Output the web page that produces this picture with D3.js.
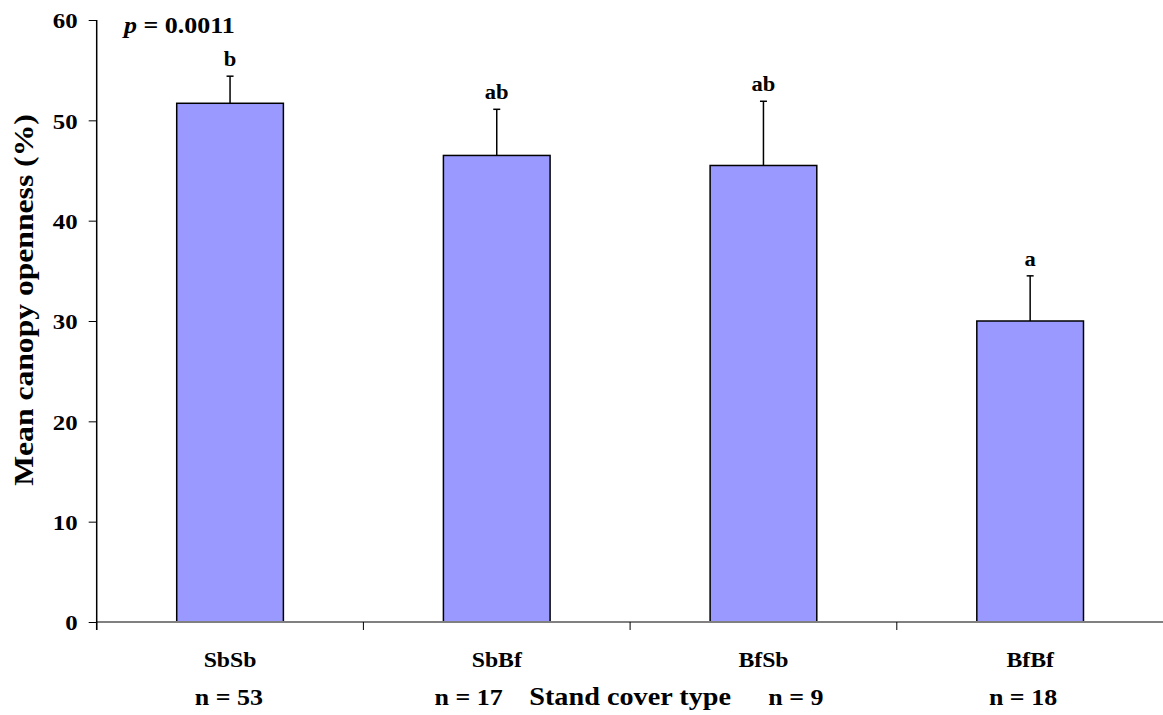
<!DOCTYPE html>
<html>
<head>
<meta charset="utf-8">
<script src="https://cdn.jsdelivr.net/npm/d3@7"></script>
<style>
  html, body { margin: 0; padding: 0; background: #fff; }
  svg { display: block; }
  text { font-family: "Liberation Serif", "Times New Roman", serif; font-weight: bold; fill: #000; }
</style>
</head>
<body>
<svg id="chart" width="1163" height="715"></svg>
<script>
// ---- data ----
const categories = ["SbSb", "SbBf", "BfSb", "BfBf"];
const meanValues = [51.7, 46.5, 45.5, 30.0];
const errorTops = [54.4, 51.1, 51.9, 34.5];
const groupLetters = ["b", "ab", "ab", "a"];
const sampleLabels = ["n = 53", "n = 17", "n = 9", "n = 18"];
const yTicks = [0, 10, 20, 30, 40, 50, 60];
const pLabel = "0.0011";
const xTitle = "Stand cover type";
const yTitle = "Mean canopy openness (%)";

// ---- layout ----
const svg = d3.select("#chart");
const plotLeft = 96.7, plotRight = 1163.5, plotTop = 20, plotBottom = 622;
const SX = 1.13; // horizontal glyph stretch
const x = d3.scaleBand().domain(categories).range([plotLeft, plotRight]).paddingInner(0.6).paddingOuter(0.3);
const y = d3.scaleLinear().domain([0, 60]).range([plotBottom, plotTop]);

function txt(g, str, px, py, size, anchor, rot) {
  return g.append("text")
    .attr("transform", `translate(${px},${py})` + (rot ? ` rotate(${rot})` : "") + ` scale(${SX},1)`)
    .attr("font-size", size)
    .attr("text-anchor", anchor || "middle")
    .text(str);
}

// bars
svg.append("g").selectAll("rect").data(categories).join("rect")
  .attr("x", d => x(d))
  .attr("y", (d, i) => y(meanValues[i]))
  .attr("width", x.bandwidth())
  .attr("height", (d, i) => y(0) - y(meanValues[i]))
  .attr("fill", "#9999FF")
  .attr("stroke", "#000")
  .attr("stroke-width", 1.5);

// error bars (upper only)
const eg = svg.append("g").attr("stroke", "#000").attr("stroke-width", 1.5);
categories.forEach((c, i) => {
  const cx = x(c) + x.bandwidth() / 2;
  eg.append("line").attr("x1", cx).attr("x2", cx).attr("y1", y(meanValues[i])).attr("y2", y(errorTops[i]));
  eg.append("line").attr("x1", cx - 3.5).attr("x2", cx + 3.5).attr("y1", y(errorTops[i])).attr("y2", y(errorTops[i]));
});

// group letters
const lg = svg.append("g");
categories.forEach((c, i) => {
  const cx = x(c) + x.bandwidth() / 2;
  txt(lg, groupLetters[i], cx, y(errorTops[i]) - 10, 20, "middle");
});

// x axis line (gray)
svg.append("line").attr("x1", plotLeft).attr("x2", plotRight).attr("y1", y(0)).attr("y2", y(0))
  .attr("stroke", "#808080").attr("stroke-width", 2);
// boundary ticks
const step = x.step();
const bounds = categories.map(c => x(c) - step * 0.3).concat([x(categories[categories.length - 1]) + x.bandwidth() + step * 0.3]);
svg.append("g").selectAll("line").data(bounds).join("line")
  .attr("x1", d => d).attr("x2", d => d).attr("y1", y(0)).attr("y2", y(0) + 8)
  .attr("stroke", "#000").attr("stroke-width", 1);

// y axis
const yAxis = svg.append("g").attr("transform", `translate(${plotLeft},0)`)
  .call(d3.axisLeft(y).tickValues(yTicks).tickSize(8).tickPadding(10).tickFormat(d3.format("d")));
yAxis.select(".domain").attr("stroke", "#000").attr("stroke-width", 1.5).attr("d", `M0,${y(60)}V${y(0) + 8}`);
yAxis.selectAll(".tick line").attr("stroke", "#000").attr("stroke-width", 1);
yAxis.selectAll(".tick text")
  .attr("font-size", 22).attr("font-family", "Liberation Serif, Times New Roman, serif").attr("font-weight", "bold")
  .attr("x", -19 / SX).attr("dy", "0.36em").attr("transform", `scale(${SX},1)`);

// category labels
const cg = svg.append("g");
categories.forEach((c, i) => {
  txt(cg, c, x(c) + x.bandwidth() / 2, 667, 21, "middle");
});

// sample size labels (placed as in original text line)
const nOffsets = [33, 6, 60, 27];
categories.forEach((c, i) => {
  txt(cg, sampleLabels[i], x(c) + x.bandwidth() / 2 + nOffsets[i], 705, 23, "end");
});

// x title
txt(svg, xTitle, (plotLeft + plotRight) / 2, 705, 25, "middle");

// y title
txt(svg, yTitle, 33, 300, 28, "middle", -90);

// p value
const pt = svg.append("text")
  .attr("transform", `translate(124,33) scale(${SX},1)`)
  .attr("font-size", 23).attr("text-anchor", "start");
pt.append("tspan").attr("font-style", "italic").text("p");
pt.append("tspan").text(" = " + pLabel);
</script>
</body>
</html>
